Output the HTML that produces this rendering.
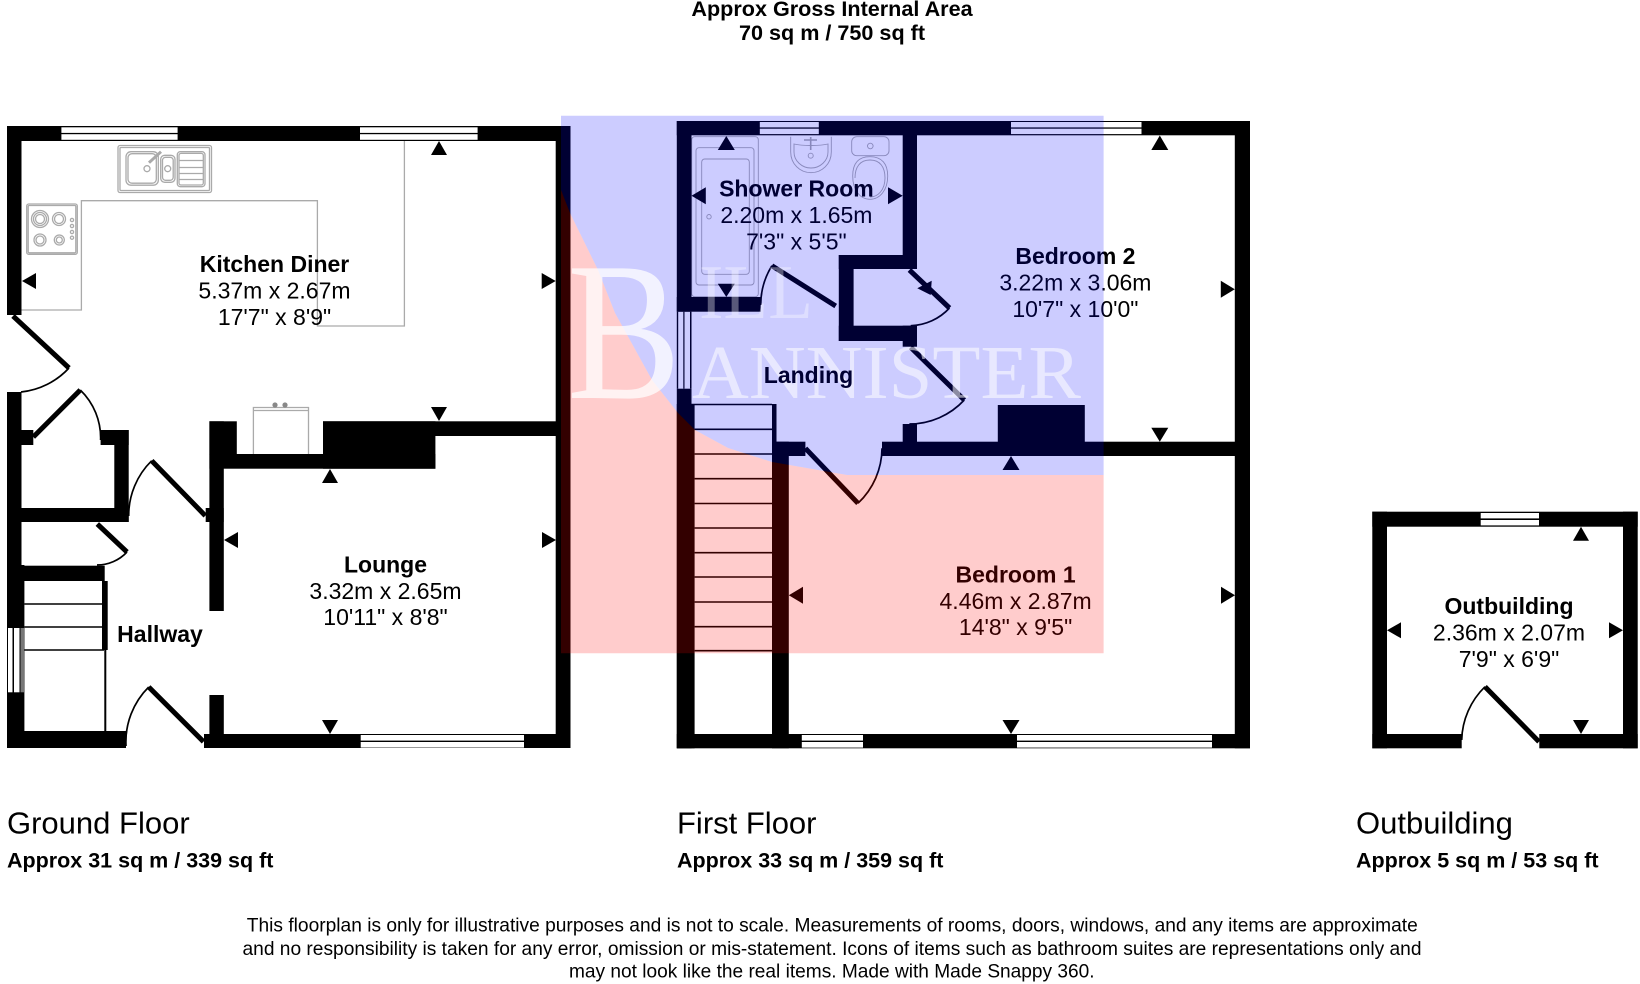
<!DOCTYPE html>
<html><head><meta charset="utf-8"><title>Floorplan</title>
<style>html,body{margin:0;padding:0;background:#fff;width:1640px;height:984px;overflow:hidden}svg{display:block}
text{font-family:"Liberation Sans",sans-serif;fill:#000}
.b{font-weight:bold;font-size:23px;text-anchor:middle}.r{font-size:23px;text-anchor:middle}
.h{font-size:31px}.a{font-weight:bold;font-size:21.5px}.d{font-size:19.2px;text-anchor:middle}
.t{font-weight:bold;font-size:21.6px;text-anchor:middle}
.door{stroke:#000;stroke-width:5;fill:none}.arc{stroke:#000;stroke-width:1.7;fill:none}
.g{stroke:#aaa;stroke-width:1.3;fill:none}.g2{stroke:#aaa;stroke-width:.9;fill:none}
.tr{stroke:#000;stroke-width:1.6}
text.w{font-family:"Liberation Serif",serif;fill:#fff}
</style></head><body>
<svg width="1640" height="984" viewBox="0 0 1640 984" xmlns="http://www.w3.org/2000/svg">
<rect width="1640" height="984" fill="#fff"/>

<!-- Ground floor fixtures -->
<path class="g" d="M21.5 310H81.4V200.7H317.4V326H404.4V141"/>
<g class="g">
<rect x="118" y="145.5" width="93.5" height="47" rx="2"/><rect x="120" y="147.5" width="89.5" height="43" rx="1"/>
<rect x="126" y="151.7" width="32.3" height="33.5" rx="5"/><rect x="128" y="153.7" width="28.3" height="29.5" rx="4"/>
<rect x="160.7" y="155.3" width="14.3" height="27" rx="4"/><rect x="162.5" y="157.3" width="10.7" height="23" rx="3"/>
<rect x="177.3" y="151.7" width="27.7" height="35" rx="3"/><rect x="179" y="153.4" width="24.3" height="31.6" rx="2"/>
<path d="M179 160.5H203M179 167.5H203M179 173.5H203M179 179.5H203"/>
<circle cx="147" cy="168.7" r="3"/><circle cx="167.7" cy="168.7" r="3"/>
<path d="M149 162.7L161 151.7" stroke-width="3"/>
<rect x="26.7" y="204" width="50.6" height="50.3" rx="2"/><rect x="28.2" y="205.5" width="47.6" height="47.3" rx="1"/>
<circle cx="40" cy="219" r="8.5"/><circle cx="40" cy="219" r="6.5"/><circle cx="40" cy="219" r="4.5"/>
<circle cx="59" cy="219" r="6.5"/><circle cx="59" cy="219" r="4.5"/>
<circle cx="40" cy="240" r="6"/><circle cx="40" cy="240" r="4"/>
<circle cx="59.3" cy="240" r="5"/><circle cx="59.3" cy="240" r="3"/>
<circle cx="72" cy="220" r="1.6"/><circle cx="72" cy="226" r="1.6"/><circle cx="72" cy="232" r="1.6"/><circle cx="72" cy="237.7" r="1.6"/>
<path d="M253.4 454V407.5H308.5V454M253.4 410.5H308.5"/>
</g>
<circle cx="275" cy="405" r="2.6" fill="#888"/><circle cx="285" cy="405" r="2.6" fill="#888"/>

<!-- Ground floor walls -->
<g fill="#000">
<rect x="7" y="126" width="563.5" height="15"/>
<rect x="7" y="126" width="14.5" height="189"/>
<rect x="7" y="392" width="14.5" height="174"/>
<rect x="7" y="565" width="17.4" height="183"/>
<rect x="7" y="731" width="119" height="17"/>
<rect x="204" y="734" width="366.5" height="14"/>
<rect x="555.7" y="126" width="14.8" height="622"/>
<rect x="209.4" y="421.3" width="27.4" height="33"/>
<rect x="209.4" y="421.3" width="14.4" height="189.7"/>
<rect x="209.4" y="454" width="226" height="14.7"/>
<rect x="323" y="421.3" width="112.4" height="47.4"/>
<rect x="323" y="421.3" width="233" height="14.7"/>
<rect x="205.7" y="508" width="18" height="14"/>
<rect x="209.4" y="695" width="14.4" height="40"/>
<rect x="7" y="508" width="121.7" height="14"/>
<rect x="114.3" y="430" width="14.4" height="92"/>
<rect x="100.6" y="430" width="28.1" height="15"/>
<rect x="7" y="430" width="26.3" height="15"/>
<rect x="7" y="565.7" width="97.7" height="15.3"/>
<rect x="102" y="581" width="5.7" height="69"/>
<rect x="104.3" y="650" width="2" height="82"/>
</g>
<path class="tr" d="M24.4 604H102M24.4 627H102M24.4 650H104"/>
<!-- Ground windows -->
<g fill="#fff">
<rect x="61.4" y="127.3" width="116.2" height="5.6"/><rect x="61.4" y="134.2" width="116.2" height="5.6"/>
<rect x="360" y="127.3" width="117.6" height="5.6"/><rect x="360" y="134.2" width="117.6" height="5.6"/>
<rect x="360.7" y="735" width="163.3" height="5.6"/><rect x="360.7" y="742" width="163.3" height="5.6"/>
<rect x="8" y="628" width="4.5" height="64.3"/><rect x="14" y="628" width="5.5" height="64.3"/>
</g>
<rect x="20.5" y="628" width="3.5" height="64.3" fill="#777"/>

<!-- Ground doors -->
<path class="door" d="M13 316L69 368M33.3 437L80.3 390M205.3 515.7L151.7 460.7M97.3 524L127 552M203.5 741.7L148.7 687"/>
<path class="arc" d="M69 368A76 76 0 0 1 21 392M80.3 390A66.5 66.5 0 0 1 100.6 440M151.7 460.7A76.8 76.8 0 0 0 128.7 516M127 552A41 41 0 0 1 97 565M148.7 687A77.5 77.5 0 0 0 126 746"/>

<!-- Ground arrows -->
<path d="M439 141l8 14h-16zM439 421l8-14h-16zM22 281l14-8v16zM555.7 281l-14-8v16zM330 469l8 14h-16zM224 540l14-8v16zM556 540l-14-8v16zM330 734l8-14h-16z"/>

<!-- Ground labels -->
<text class="b" x="274.5" y="272">Kitchen Diner</text>
<text class="r" x="274.5" y="298.3">5.37m x 2.67m</text>
<text class="r" x="274.5" y="325">17'7" x 8'9"</text>
<text class="b" x="385.5" y="572.7">Lounge</text>
<text class="r" x="385.5" y="599">3.32m x 2.65m</text>
<text class="r" x="385.5" y="625">10'11" x 8'8"</text>
<text class="b" x="160" y="642">Hallway</text>

<!-- First floor fixtures -->
<g class="g2">
<rect x="691.7" y="136.7" width="66.6" height="160" rx="3"/>
<rect x="696" y="147.7" width="58" height="137.3" rx="3"/>
<rect x="701.7" y="159" width="47.6" height="115.3" rx="3"/>
<circle cx="709" cy="216.7" r="2.2"/>
<path d="M790.7 136.7V152C790.7 164 800 172.7 811 172.7S831.3 164 831.3 152V136.7"/>
<path d="M794 144V152C794 161 802 168 811 168S828 161 828 152L828 144C820 146 802 146 794 144Z"/>
<circle cx="810.7" cy="155.7" r="2.5"/><path d="M810.7 137V150M804 140H817" stroke-width="1.6"/>
<rect x="851.7" y="136.7" width="37.3" height="19" rx="5"/>
<circle cx="870.3" cy="146" r="2.8"/>
<path d="M852.7 176C852.7 164 858 156.7 870 156.7S887.7 164 887.7 176C887.7 190 880 199.3 870 199.3S852.7 190 852.7 176Z"/>
<path d="M855 178C855 167 860 160 870 160S885 167 885 178C885 190 878 197 870 197"/>
</g>

<!-- First floor walls -->
<g fill="#000">
<rect x="676.8" y="121" width="573.2" height="14.3"/>
<rect x="676.8" y="121" width="14.7" height="190.7"/>
<rect x="676.8" y="311.7" width="1.4" height="77"/>
<rect x="683.3" y="311.7" width="1.2" height="77"/>
<rect x="690" y="311.7" width="1.5" height="77"/>
<rect x="676.8" y="388.7" width="14.7" height="359.6"/>
<rect x="676.8" y="404" width="17.8" height="344.3"/>
<rect x="676.8" y="734" width="573.2" height="14.3"/>
<rect x="1234.8" y="121" width="15.2" height="627.3"/>
<rect x="902.7" y="121" width="14.3" height="148"/>
<rect x="676.8" y="297" width="83.9" height="14.7"/>
<rect x="838.8" y="255" width="78.2" height="14"/>
<rect x="838.8" y="255" width="14.8" height="86"/>
<rect x="838.8" y="325.7" width="78.2" height="15.3"/>
<rect x="902.7" y="325.7" width="14.3" height="21"/>
<rect x="902.7" y="424" width="14.3" height="18"/>
<rect x="997.8" y="405" width="87" height="50"/>
<rect x="882" y="441.7" width="368" height="14.3"/>
<rect x="772" y="441.7" width="33.4" height="14.3"/>
<rect x="772" y="404" width="4.5" height="38"/>
<rect x="772" y="441.7" width="16.8" height="306.6"/>
</g>
<path class="tr" d="M691.5 404.5H772M694.6 429.3H772M694.6 454H772M694.6 478.7H772M694.6 503.5H772M694.6 528H772M694.6 552.7H772M694.6 577H772M694.6 602H772M694.6 626.7H772M694.6 650.7H772"/>
<!-- First windows -->
<g fill="#fff">
<rect x="759.8" y="122" width="59" height="5.4"/><rect x="759.8" y="128.7" width="59" height="5.4"/>
<rect x="1011" y="122" width="130.5" height="5.4"/><rect x="1011" y="128.7" width="130.5" height="5.4"/>
<rect x="801.8" y="735" width="61.2" height="5.6"/><rect x="801.8" y="742" width="61.2" height="5.6"/>
<rect x="1017" y="735" width="195" height="5.6"/><rect x="1017" y="742" width="195" height="5.6"/>
</g>
<!-- First doors -->
<path class="door" d="M835.7 306L771.9 265.7M909.4 270L949.5 308M910.7 347.3L964.3 400M805.4 448.3L858 503.3"/>
<path class="arc" d="M771.9 265.7A75.5 75.5 0 0 0 760.7 305M949.5 308A55 55 0 0 1 910.7 325.7M964.3 400A75 75 0 0 1 909.4 424M858 503.3A76 76 0 0 0 882 448.3"/>
<!-- First arrows -->
<path d="M726.3 136l8.5 14h-17zM726.3 297l8.5-13.3h-17zM691.5 195.7l14.3-8.5v17zM902.7 195.7l-14.7-8.5v17zM1159.8 135.5l8.5 14.5h-17zM1159.8 441.7l8.5-14h-17zM1234.8 289.3l-14-8.5v17zM917.3 288.3L931.7 280.7 930.7 295zM1011 456l8.5 14h-17zM788.8 595.3l14.2-8.5v17zM1235 595.3l-14-8.5v17zM1011 734l8.5-14h-17z"/>
<!-- First labels -->
<text class="b" x="796.4" y="196.7">Shower Room</text>
<text class="r" x="796.4" y="223">2.20m x 1.65m</text>
<text class="r" x="796.4" y="249.7">7'3" x 5'5"</text>
<text class="b" x="1075.4" y="264">Bedroom 2</text>
<text class="r" x="1075.4" y="290.7">3.22m x 3.06m</text>
<text class="r" x="1075.4" y="317">10'7" x 10'0"</text>
<text class="b" x="1015.6" y="582.7">Bedroom 1</text>
<text class="r" x="1015.6" y="609">4.46m x 2.87m</text>
<text class="r" x="1015.6" y="635">14'8" x 9'5"</text>

<!-- Logo overlay: tint both halves -->
<path fill="#00f" fill-opacity=".2" d="M561 115.7H1103.6V475H847L772 462 728 448 695 430 678 413 652 380 615 313 598 270 570 213 561 190Z"/>
<path fill="#f00" fill-opacity=".2" d="M561 190L570 213 598 270 615 313 652 380 678 413 695 430 728 448 772 462 847 475H1103.6V653.3H561Z"/>

<!-- Watermark -->
<text class="w" x="567" y="398" font-size="198" textLength="114" lengthAdjust="spacingAndGlyphs" style="fill-opacity:.75">B</text>
<text class="w" x="699" y="318" font-size="77" textLength="114" lengthAdjust="spacingAndGlyphs" style="fill-opacity:.35">ILL</text>
<text class="w" x="692" y="398" font-size="76" textLength="389" lengthAdjust="spacingAndGlyphs" style="fill-opacity:.55">ANNISTER</text>
<text class="b" x="808.5" y="383" style="fill:#000033">Landing</text>

<!-- Outbuilding -->
<g fill="#000">
<rect x="1372.3" y="511.7" width="265.4" height="15"/>
<rect x="1372.3" y="511.7" width="14.7" height="236.6"/>
<rect x="1623" y="511.7" width="14.7" height="236.6"/>
<rect x="1372.3" y="734" width="89.4" height="14.3"/>
<rect x="1539.3" y="734" width="98.4" height="14.3"/>
</g>
<rect x="1480.7" y="513" width="58.3" height="5.4" fill="#fff"/><rect x="1480.7" y="520" width="58.3" height="5.4" fill="#fff"/>
<path class="door" d="M1539 741.7L1485 686.7"/>
<path class="arc" d="M1485 686.7A77 77 0 0 0 1461.7 740"/>
<path d="M1581 526.7l8 14h-16zM1581 734l8-14h-16zM1387 630.3l14-8v16zM1623 630.3l-14-8v16z"/>
<text class="b" x="1509" y="614">Outbuilding</text>
<text class="r" x="1509" y="640.7">2.36m x 2.07m</text>
<text class="r" x="1509" y="667">7'9" x 6'9"</text>

<!-- Headings -->
<text class="t" x="832" y="16">Approx Gross Internal Area</text>
<text class="t" x="832" y="40">70 sq m / 750 sq ft</text>
<text class="h" x="7" y="833.3">Ground Floor</text>
<text class="a" x="7" y="867.3">Approx 31 sq m / 339 sq ft</text>
<text class="h" x="677" y="833.3">First Floor</text>
<text class="a" x="677" y="867.3">Approx 33 sq m / 359 sq ft</text>
<text class="h" x="1356" y="833.3">Outbuilding</text>
<text class="a" x="1356" y="867.3">Approx 5 sq m / 53 sq ft</text>
<text class="d" x="832.3" y="931.7" textLength="1171" lengthAdjust="spacingAndGlyphs">This floorplan is only for illustrative purposes and is not to scale. Measurements of rooms, doors, windows, and any items are approximate</text>
<text class="d" x="832" y="955" textLength="1179" lengthAdjust="spacingAndGlyphs">and no responsibility is taken for any error, omission or mis-statement. Icons of items such as bathroom suites are representations only and</text>
<text class="d" x="831.8" y="977.3" textLength="525.6" lengthAdjust="spacingAndGlyphs">may not look like the real items. Made with Made Snappy 360.</text>
</svg>
</body></html>
